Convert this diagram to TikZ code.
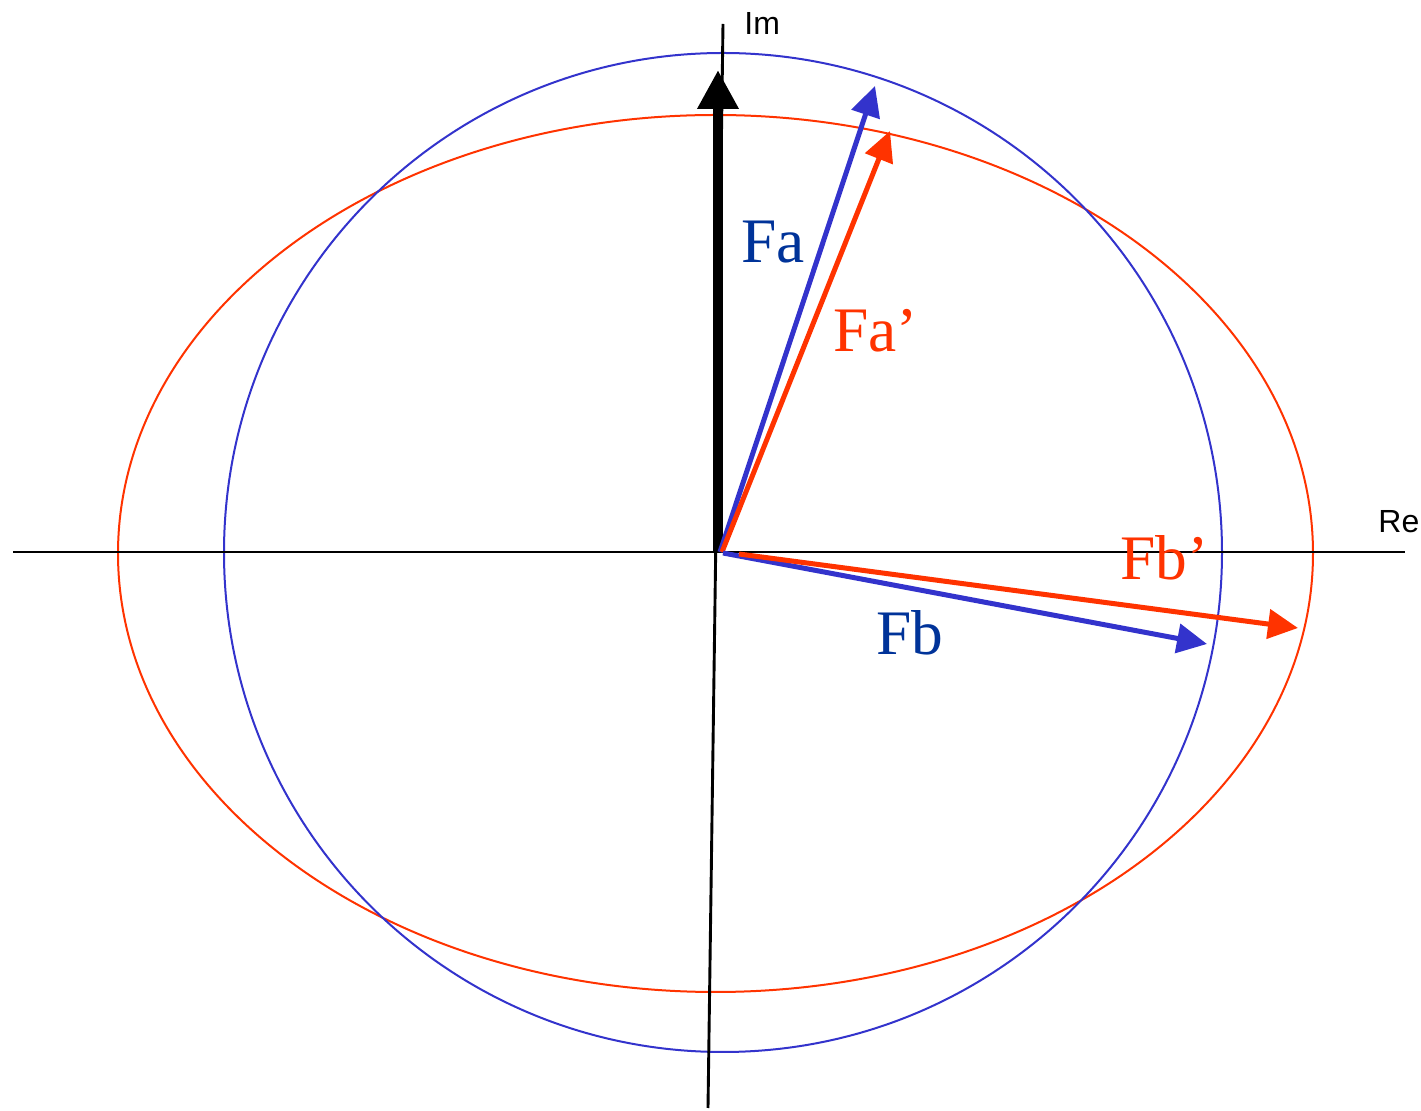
\documentclass[tikz,border=0pt]{standalone}
\usepackage{fontspec}
\setmainfont{Liberation Serif}
\newfontfamily\axfont{Liberation Sans}
\usetikzlibrary{arrows.meta}
\definecolor{lineblue}{HTML}{3333CC}
\definecolor{textblue}{HTML}{003399}
\definecolor{linered}{HTML}{FF3300}
\tikzset{
  axisline/.style={line width=1.45pt, black},
  ellblue/.style={line width=1pt, lineblue},
  ellred/.style={line width=1pt, linered},
  vecblue/.style={line width=2.5pt, lineblue, -{Triangle[length=15pt,width=14.5pt]}},
  vecred/.style={line width=2.5pt, linered, -{Triangle[length=15pt,width=14.5pt]}},
  vecblack/.style={line width=5pt, black, -{Triangle[length=19.5pt,width=19.5pt]}},
  lbl/.style={inner sep=0pt, anchor=base west, font=\fontsize{31.7}{38}\selectfont},
  axlbl/.style={inner sep=0pt, anchor=base west, font=\axfont\fontsize{16}{19}\selectfont},
}
\begin{document}
\begin{tikzpicture}[x=0.5pt,y=-0.5pt]
\useasboundingbox (0,0) rectangle (1421,1111);
% ellipses
\draw[ellred] (715.5,553.5) ellipse [x radius=597.5, y radius=438.5];
\draw[ellblue] (723,552.5) ellipse [x radius=499, y radius=499.5];
% axes
\coordinate (reL) at (13,552);
\coordinate (reR) at (1405,552);
\coordinate (imT) at (723,24);
\coordinate (imB) at (708,1108);
\draw[axisline] (reL) -- (reR);
\draw[axisline] (imT) -- (imB);
\node[axlbl] (re) at (1378,533) {Re};
\node[axlbl] (im) at (744,35) {Im};
% vectors
\coordinate (O) at (720,552);
\coordinate (Ob) at (723,553);
\coordinate (Ored) at (739,554);
\coordinate (tipBlack) at (718,70);
\coordinate (tipFa) at (875,86);
\coordinate (tipFap) at (890,131);
\coordinate (tipFb) at (1207,644);
\coordinate (tipFbp) at (1298,628);
\draw[vecblack] (718,552) -- (tipBlack);
\draw[vecblue] (O) -- (tipFa);
\draw[vecred] (722,552) -- (tipFap);
\draw[vecblue] (Ob) -- (tipFb);
\draw[vecred] (Ored) -- (tipFbp);
% labels
\node[lbl, text=textblue] (fa) at (741,263) {Fa};
\node[lbl, text=linered] (fap) at (833,352) {Fa’};
\node[lbl, text=linered] (fbp) at (1120,580) {Fb’};
\node[lbl, text=textblue] (fb) at (876,655) {Fb};
\end{tikzpicture}
\end{document}
